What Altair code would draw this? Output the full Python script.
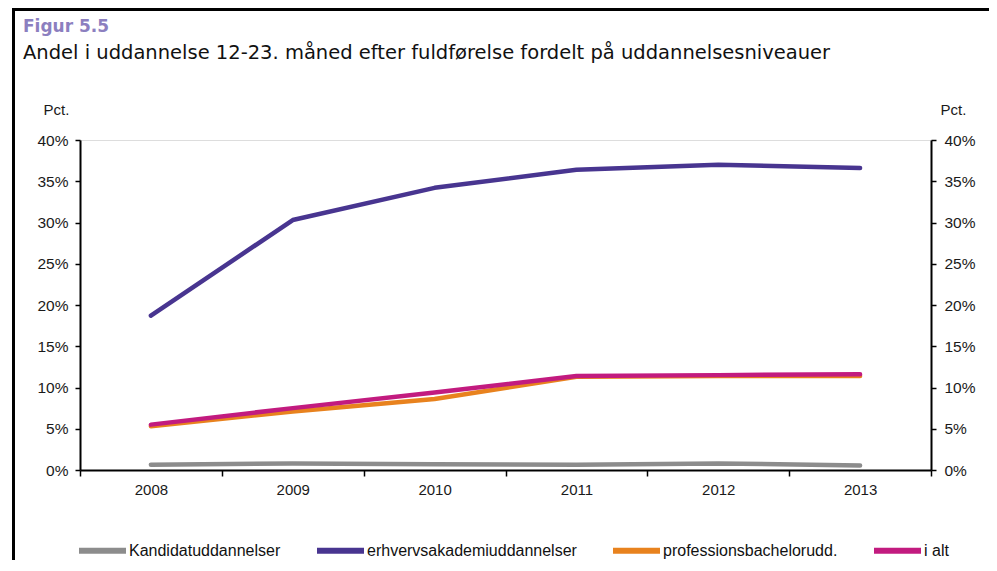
import altair as alt
import pandas as pd

years = ["2008", "2009", "2010", "2011", "2012", "2013"]
series_names = ["Kandidatuddannelser", "erhvervsakademiuddannelser", "professionsbachelorudd.", "i alt"]
kandidat = [0.65, 0.8, 0.7, 0.65, 0.8, 0.55]
erhverv = [18.7, 30.3, 34.2, 36.4, 37.0, 36.6]
profbach = [5.3, 7.1, 8.6, 11.3, 11.4, 11.4]
i_alt = [5.5, 7.5, 9.4, 11.4, 11.5, 11.6]
colors = ["#8c8c8c", "#483590", "#e8821e", "#c21b7f"]
title_text = "Figur 5.5"
subtitle_text = "Andel i uddannelse 12-23. måned efter fuldførelse fordelt på uddannelsesniveauer"

rows = []
for name, vals in zip(series_names, [kandidat, erhverv, profbach, i_alt]):
    for y, v in zip(years, vals):
        rows.append({"year": y, "series": name, "value": v})
df = pd.DataFrame(rows)

AXIS_FONT = "Liberation Sans"
label_expr = "datum.value + '%'"

x_enc = alt.X(
    "year:O",
    scale=alt.Scale(type="band", paddingInner=0, paddingOuter=0),
    bandPosition=0.5,
    axis=alt.Axis(
        title=None, tickBand="extent", labelAngle=0, labelFont=AXIS_FONT,
        labelFontSize=15, labelColor="#1a1a1a", labelPadding=6,
        domainColor="black", domainWidth=2, tickColor="black", tickWidth=1.5,
        tickSize=6, grid=False,
    ),
)

y_scale = alt.Scale(domain=[0, 40])

lines = alt.Chart(df).mark_line(strokeWidth=4.5, strokeCap="round", strokeJoin="round").encode(
    x=x_enc,
    y=alt.Y(
        "value:Q", scale=y_scale,
        axis=alt.Axis(
            orient="left", values=[0, 5, 10, 15, 20, 25, 30, 35, 40], labelExpr=label_expr,
            title="Pct.", titleAngle=0, titleAlign="left", titleBaseline="middle",
            titleX=-37, titleY=-31, titleFont=AXIS_FONT, titleFontSize=15,
            titleFontWeight="normal", titleColor="#1a1a1a",
            labelFont=AXIS_FONT, labelFontSize=15.5, labelColor="#1a1a1a", labelPadding=7,
            domainColor="black", domainWidth=2, tickColor="black", tickWidth=1.5,
            tickSize=5, grid=False,
        ),
    ),
    color=alt.Color(
        "series:N",
        scale=alt.Scale(domain=series_names, range=colors),
        legend=alt.Legend(
            title=None, orient="none", direction="horizontal", legendX=-4, legendY=384,
            symbolType="stroke", symbolSize=2209, symbolStrokeWidth=6,
            labelFont=AXIS_FONT, labelFontSize=16, labelColor="#111", labelOffset=0,
            labelLimit=0, columnPadding=24,
        ),
    ),
    order=alt.Order("year:O"),
)

right_axis = alt.Chart(df).mark_line(opacity=0).encode(
    x=alt.X("year:O", scale=alt.Scale(type="band", paddingInner=0, paddingOuter=0), bandPosition=0.5),
    y=alt.Y(
        "value:Q", scale=y_scale,
        axis=alt.Axis(
            orient="right", values=[0, 5, 10, 15, 20, 25, 30, 35, 40], labelExpr=label_expr,
            title="Pct.", titleAngle=0, titleAlign="left", titleBaseline="middle",
            titleX=9, titleY=-31, titleFont=AXIS_FONT, titleFontSize=15,
            titleFontWeight="normal", titleColor="#1a1a1a",
            labelFont=AXIS_FONT, labelFontSize=15.5, labelColor="#1a1a1a", labelPadding=8,
            domainColor="black", domainWidth=2, tickColor="black", tickWidth=1.5,
            tickSize=5, grid=False,
        ),
    ),
    detail="series:N",
)

frame_df = pd.DataFrame({"k": [0]})
frame_left = alt.Chart(frame_df).mark_rule(color="black", strokeWidth=3).encode(
    x=alt.value(-66.5), y=alt.value(-132), y2=alt.value(440)
)
frame_top = alt.Chart(frame_df).mark_rule(color="black", strokeWidth=3).encode(
    x=alt.value(-68), x2=alt.value(920), y=alt.value(-130.5)
)
title_mark = alt.Chart(pd.DataFrame({"t": [title_text]})).mark_text(
    align="left", baseline="alphabetic", font="DejaVu Sans", fontSize=17, fontWeight="bold",
    color="#8c7fbf",
).encode(x=alt.value(-57), y=alt.value(-108), text="t:N")
subtitle_mark = alt.Chart(pd.DataFrame({"t": [subtitle_text]})).mark_text(
    align="left", baseline="alphabetic", font="DejaVu Sans", fontSize=19.5, color="#111",
).encode(x=alt.value(-57), y=alt.value(-81), text="t:N")

chart = alt.layer(lines, right_axis, frame_left, frame_top, title_mark, subtitle_mark).resolve_scale(
    y="independent"
).properties(
    width=851,
    height=330,
    autosize=alt.AutoSizeParams(type="none"),
    padding={"left": 72, "top": 132, "right": 58, "bottom": 90},
).configure_view(stroke=None).configure(background="white")

chart.save("out.html", embed_options={"renderer": "svg", "actions": False})
